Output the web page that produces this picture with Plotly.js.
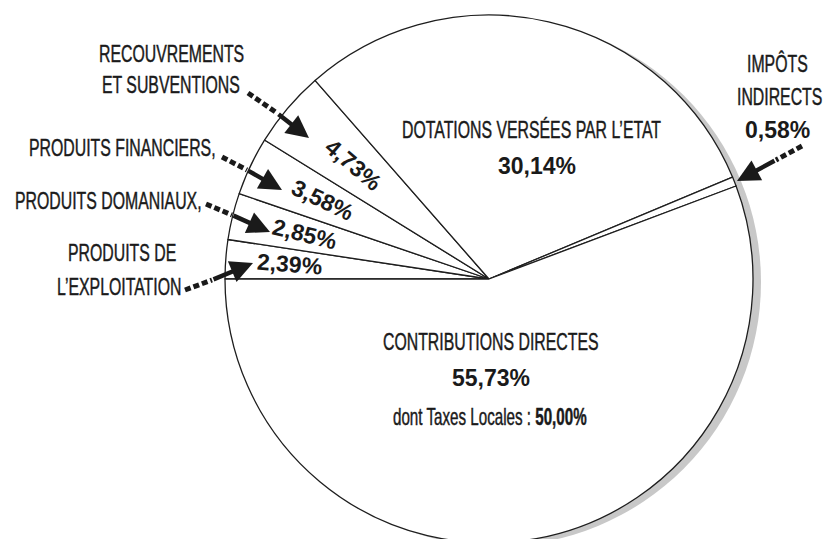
<!DOCTYPE html>
<html>
<head>
<meta charset="utf-8">
<script src="https://cdn.plot.ly/plotly-3.0.1.min.js"></script>
<style>
html,body{margin:0;padding:0;overflow:hidden;background:#fff;}
#chart{width:833px;height:547px;}
/* condensed look for the narrow labels (no condensed font installed) */
text.annotation-text[style*="Narrow"]{
  transform-box: fill-box; transform-origin: 50% 50%; transform: scaleX(0.66);
  stroke: #1a1a1a; stroke-width: 0.45px;
}
</style>
</head>
<body>
<div id="chart"></div>
<script>
// ---- data ----
const categories = ["PRODUITS DE L’EXPLOITATION", "PRODUITS DOMANIAUX", "PRODUITS FINANCIERS",
  "RECOUVREMENTS ET SUBVENTIONS", "DOTATIONS VERSÉES PAR L’ETAT", "IMPÔTS INDIRECTS", "CONTRIBUTIONS DIRECTES"];
const shares = [2.39, 2.85, 3.58, 4.73, 30.14, 0.58, 55.73];
const labelLines = [["PRODUITS DE", "L’EXPLOITATION"], ["PRODUITS DOMANIAUX,"], ["PRODUITS FINANCIERS,"],
  ["RECOUVREMENTS", "ET SUBVENTIONS"], ["DOTATIONS VERSÉES PAR L’ETAT"], ["IMPÔTS", "INDIRECTS"], ["CONTRIBUTIONS DIRECTES"]];
const subNoteLabel = "dont Taxes Locales : ";
const subNoteShare = 50.00;
const shadowValue = [1];

// ---- helpers ----
const W = 833, H = 547;
const px = x => x / W;
const py = y => 1 - y / H;
const fmt = v => v.toFixed(2).replace('.', ',') + '%';
const CX = 489, CY = 279, R = 264;
const NARROW = "'Liberation Sans Narrow', 'Liberation Sans', Arial, sans-serif";
const BOLD = "'Liberation Sans', Arial, Helvetica, sans-serif";
const INK = '#1a1a1a';

const shadow = {
  type: 'pie', values: shadowValue, sort: false, textinfo: 'none', hoverinfo: 'skip', showlegend: false,
  marker: {colors: ['#c8c8c8'], line: {width: 0}},
  domain: {x: [px(CX - R + 8), px(CX + R + 8)], y: [py(CY + 3 + R), py(CY + 3 - R)]}
};
const pie = {
  type: 'pie', labels: categories, values: shares, sort: false, direction: 'clockwise', rotation: -90,
  textinfo: 'none', hoverinfo: 'skip', showlegend: false,
  marker: {colors: shares.map(() => '#ffffff'), line: {color: '#1e1e1e', width: 1.3}},
  domain: {x: [px(CX - R), px(CX + R)], y: [py(CY + R), py(CY - R)]}
};

const annotations = [];
const shapes = [];
function txt(s, x, y, opts) {
  annotations.push(Object.assign({
    text: s, x: px(x), y: py(y), xref: 'paper', yref: 'paper', showarrow: false,
    xanchor: 'center', yanchor: 'middle',
    font: {family: NARROW, size: 24, color: INK}
  }, opts || {}));
}
const boldFont = {family: BOLD, size: 23, color: INK, weight: 'bold'};
function arrow(tail, mid, tip) {
  shapes.push({type: 'line', xref: 'paper', yref: 'paper', x0: px(tail[0]), y0: py(tail[1]),
    x1: px(mid[0]), y1: py(mid[1]), line: {color: INK, width: 5, dash: '6px,3px'}});
  annotations.push({text: '', x: px(tip[0]), y: py(tip[1]), xref: 'paper', yref: 'paper',
    showarrow: true, ax: mid[0] - tip[0], ay: mid[1] - tip[1], arrowhead: 2, arrowsize: 1,
    arrowwidth: 4.5, arrowcolor: INK, standoff: 0});
}

// outside labels
txt(labelLines[3][0], 171, 54); txt(labelLines[3][1], 171, 85);
txt(labelLines[2][0], 123, 148);
txt(labelLines[1][0], 108, 201);
txt(labelLines[0][0], 122, 253); txt(labelLines[0][1], 119, 287);
txt(labelLines[5][0], 777, 64); txt(labelLines[5][1], 779, 97);
txt(fmt(shares[5]), 777, 130, {font: boldFont});
// inside big labels
txt(labelLines[4][0], 531, 130);
txt(fmt(shares[4]), 537, 166, {font: boldFont});
txt(labelLines[6][0], 491, 342);
txt(fmt(shares[6]), 491, 378, {font: boldFont});
txt(subNoteLabel + '<b>' + fmt(subNoteShare) + '</b>', 490, 417, {font: {family: NARROW, size: 23, color: INK}});

// rotated percentages in small slices (radial)
const textRadius = [200, 190, 184, 177];
let cum = 0;
shares.forEach((v, i) => {
  const mid = cum + v / 2; cum += v;
  if (i > 3) return;
  const th = mid / 100 * 360;
  const rad = th * Math.PI / 180;
  const x = CX - textRadius[i] * Math.cos(rad), y = CY - textRadius[i] * Math.sin(rad);
  txt(fmt(v), x, y, {textangle: th, font: boldFont});
});

// arrows
arrow([248, 93], [277, 113], [309, 138]);
arrow([222, 157], [247, 170], [282, 190]);
arrow([206, 204], [232, 215], [270, 232]);
arrow([185, 290], [212, 280], [253, 263]);
arrow([802, 146], [776, 160], [737, 181]);

Plotly.newPlot('chart', [shadow, pie], {
  width: W, height: H, margin: {l: 0, r: 0, t: 0, b: 0},
  paper_bgcolor: '#ffffff', showlegend: false,
  annotations: annotations, shapes: shapes
}, {staticPlot: true});
</script>
</body>
</html>
